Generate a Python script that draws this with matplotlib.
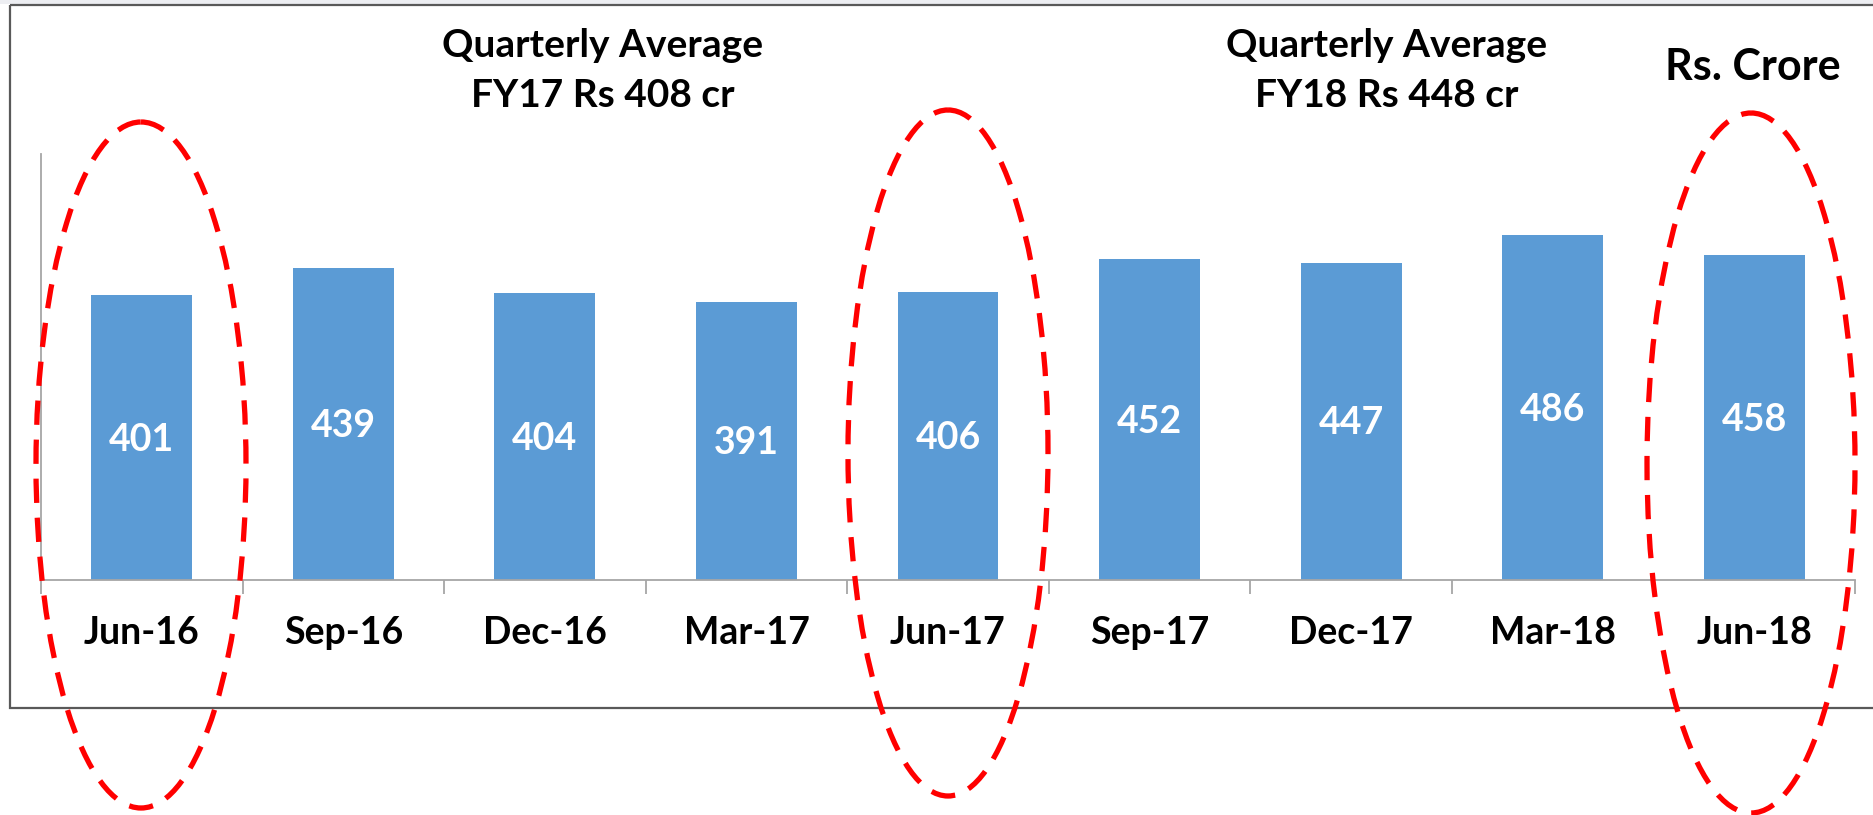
import matplotlib
matplotlib.use("Agg")
import matplotlib.pyplot as plt
from matplotlib.patches import Ellipse, Rectangle

# ---- data ----
categories = ["Jun-16", "Sep-16", "Dec-16", "Mar-17", "Jun-17",
              "Sep-17", "Dec-17", "Mar-18", "Jun-18"]
values = [401, 439, 404, 391, 406, 452, 447, 486, 458]
title_fy17 = ["Quarterly Average", "FY17 Rs 408 cr"]
title_fy18 = ["Quarterly Average", "FY18 Rs 448 cr"]
unit_label = "Rs. Crore"
highlighted = ["Jun-16", "Jun-17", "Jun-18"]

W, H = 1873, 815
DPI = 100
plt.rcParams['font.family'] = ['Lato', 'DejaVu Sans']

fig = plt.figure(figsize=(W / DPI, H / DPI), dpi=DPI)
fig.patch.set_facecolor("white")

# main axes (pixel layout converted to figure fractions)
axL, axR, axT, axB = 41, 1855, 154, 580
ax = fig.add_axes([axL / W, 1 - axB / H, (axR - axL) / W, (axB - axT) / H])
x = list(range(len(categories)))
bars = ax.bar(x, values, width=0.5, color="#5B9BD5", zorder=2)
ax.set_xlim(-0.5, len(categories) - 0.5)
ax.set_ylim(0, 600)

for xi, v in zip(x, values):
    ax.text(xi, v / 2 - 3, str(v), ha="center", va="center", color="white",
            fontsize=27, fontweight="bold")

for s in ["top", "right"]:
    ax.spines[s].set_visible(False)
for s in ["left", "bottom"]:
    ax.spines[s].set_color("#A6A6A6")
    ax.spines[s].set_linewidth(1.3)
ax.set_yticks([])
ax.set_xticks(x)
ax.set_xticklabels(categories, fontsize=27, fontweight="bold", color="black")
ax.tick_params(axis="x", which="major", length=0, pad=26)
ax.set_xticks([i - 0.5 for i in range(len(categories) + 1)], minor=True)
ax.tick_params(axis="x", which="minor", length=10, width=1.3, color="#A6A6A6",
               direction="out")
ax.patch.set_alpha(0)

# overlay axes in pixel coordinates
ov = fig.add_axes([0, 0, 1, 1], zorder=5)
ov.set_xlim(0, W)
ov.set_ylim(H, 0)
ov.axis("off")
ov.patch.set_alpha(0)

ov.add_patch(Rectangle((0, 0), W, 4, facecolor="#EDEEF2", edgecolor="none"))
ov.add_patch(Rectangle((10, 5), W + 20, 703, facecolor="none",
                       edgecolor="#595959", linewidth=1.6))

ov.text(603, 57, title_fy17[0], ha="center", va="baseline", fontsize=28, fontweight="bold")
ov.text(603, 107, title_fy17[1], ha="center", va="baseline", fontsize=28, fontweight="bold")
ov.text(1387, 57, title_fy18[0], ha="center", va="baseline", fontsize=28, fontweight="bold")
ov.text(1387, 107, title_fy18[1], ha="center", va="baseline", fontsize=28, fontweight="bold")
ov.text(1753, 80, unit_label, ha="center", va="baseline", fontsize=31, fontweight="bold")

ellipses = [((141, 465), 210, 686), ((948, 453), 200, 686), ((1751, 463), 208, 700)]
for (cx, cy), w, h in ellipses:
    ov.add_patch(Ellipse((cx, cy), w, h, facecolor="none", edgecolor="#FF0000",
                         linewidth=3.8, linestyle=(0, (4.6, 2.8))))

fig.savefig("out.png", dpi=DPI)
